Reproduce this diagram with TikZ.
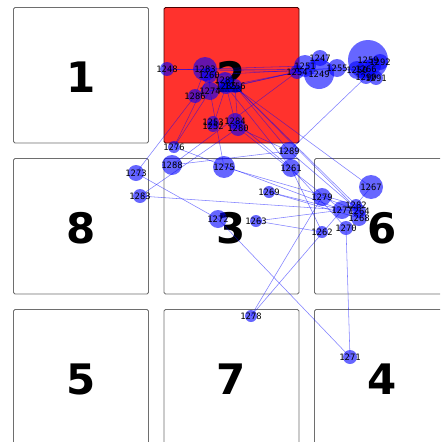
\documentclass[tikz,border=0pt]{standalone}
\usepackage{fontspec}
\newfontfamily\digitfont{DejaVu Sans}
\newfontfamily\labfont{DejaVu Sans Mono}
\definecolor{boxred}{RGB}{255,50,45}
\definecolor{boxline}{RGB}{110,110,110}
\tikzset{
  cell/.style={draw=boxline, line width=0.8pt, rounded corners=1.5pt, fill=white},
  redcell/.style={cell, fill=boxred, draw=black!70!red},
  digit/.style={font=\digitfont\bfseries\fontsize{42}{42}\selectfont, inner sep=0pt, text=black},
  blob/.style={circle, fill=blue, fill opacity=0.6, draw=none, inner sep=0pt},
  edge/.style={draw=blue, draw opacity=0.5, line width=0.55pt},
  lab/.style={font=\labfont\fontsize{8.8}{8.8}\selectfont, inner sep=0pt, text=black}
}
\newcommand{\nd}[4]{\node[blob, minimum size=#4*2pt] (n#1) at (#2,#3) {};}
\begin{document}
\begin{tikzpicture}[x=1pt,y=-1pt]
\useasboundingbox (0,0) rectangle (440,442);
\clip (0,0) rectangle (440,442);
% cells
\draw[cell] (13.5,7.5) rectangle +(135,135.5);
\draw[redcell] (164,7.5) rectangle +(135,135.5);
\draw[cell] (13.5,158.5) rectangle +(135,135.5);
\draw[cell] (164,158.5) rectangle +(135,135.5);
\draw[cell] (314.5,158.5) rectangle +(135,135.5);
\draw[cell] (13.5,309.5) rectangle +(135,140);
\draw[cell] (164,309.5) rectangle +(135,140);
\draw[cell] (314.5,309.5) rectangle +(135,140);
\node[digit] (d1) at (81,77) {1};
\node[digit] (d2) at (231.5,77) {2};
\node[digit] (d8) at (81,228) {8};
\node[digit] (d3) at (231.5,228) {3};
\node[digit] (d6) at (382,228) {6};
\node[digit] (d5) at (81,379) {5};
\node[digit] (d7) at (231.5,379) {7};
\node[digit] (d4) at (382,379) {4};
% nodes
\nd{48}{167}{69}{7}
\nd{83}{205}{69}{12}
\nd{60}{209}{75}{8}
\nd{81}{225}{80}{8}
\nd{85}{226}{86}{8}
\nd{56}{235}{86}{7}
\nd{74}{210}{91}{9}
\nd{86}{195}{96}{7}
\nd{53}{213}{122}{6}
\nd{52}{213}{126}{6}
\nd{84}{235}{121}{8}
\nd{80}{238}{128}{8}
\nd{76}{174}{147}{6}
\nd{88}{172}{165}{10}
\nd{75}{224}{167}{11}
\nd{89}{289}{151}{9}
\nd{61}{291}{168}{9}
\nd{73}{136}{173}{8}
\nd{83b}{140}{196}{7}
\nd{69}{269}{192}{6}
\nd{72}{218}{219}{9}
\nd{63}{256}{221}{6}
\nd{79}{322}{197}{9}
\nd{67}{371}{187}{12}
\nd{82}{356}{205}{6}
\nd{77}{342}{210}{9}
\nd{64}{359}{211}{7}
\nd{68}{359}{218}{8}
\nd{70}{346}{228}{7}
\nd{62}{322}{232}{6}
\nd{78}{251}{316}{6}
\nd{71}{350}{357}{7}
\nd{51}{305}{66}{11}
\nd{54}{297}{72}{7}
\nd{47}{320}{58}{8}
\nd{49}{319}{74}{15}
\nd{55}{337}{68}{9}
\nd{59}{368}{60}{20}
\nd{92}{380}{62}{8}
\nd{50}{357}{70}{9}
\nd{66}{366}{69}{9}
\nd{57}{373}{66}{8}
\nd{90}{366}{77}{7}
\nd{91}{376}{78}{7}
% edges
\foreach \a/\b in {48/54,48/83,83/51,60/55,83/50,85/54,56/54,74/54,60/76,83/86,74/75,74/85,60/74,85/52,85/84,56/80,84/61,56/89,85/61,56/82,56/64,81/67,80/89,80/77,88/54,73/86,76/74,83b/80,88/89,76/77,75/82,83b/64,73/72,72/71,70/71,90/89,78/79,78/77,63/77,63/62,69/77,69/68,61/62,61/70,89/64,67/82,79/64,54/49,51/47,55/50,49/55,47/55}
  \draw[edge] (n\a.center) -- (n\b.center);
% labels
\foreach \i/\t in {48/1248,83/1283,60/1260,81/1281,85/1285,56/1256,74/1274,86/1286,53/1253,52/1252,84/1284,80/1280,76/1276,88/1288,75/1275,89/1289,61/1261,73/1273,83b/1283,69/1269,72/1272,63/1263,79/1279,67/1267,82/1282,77/1277,64/1264,68/1268,70/1270,62/1262,78/1278,71/1271,51/1251,54/1254,47/1247,49/1249,55/1255,59/1259,92/1292,50/1250,66/1266,90/1290,91/1291}
  \node[lab] (l\i) at (n\i) {\t};
\end{tikzpicture}
\end{document}
